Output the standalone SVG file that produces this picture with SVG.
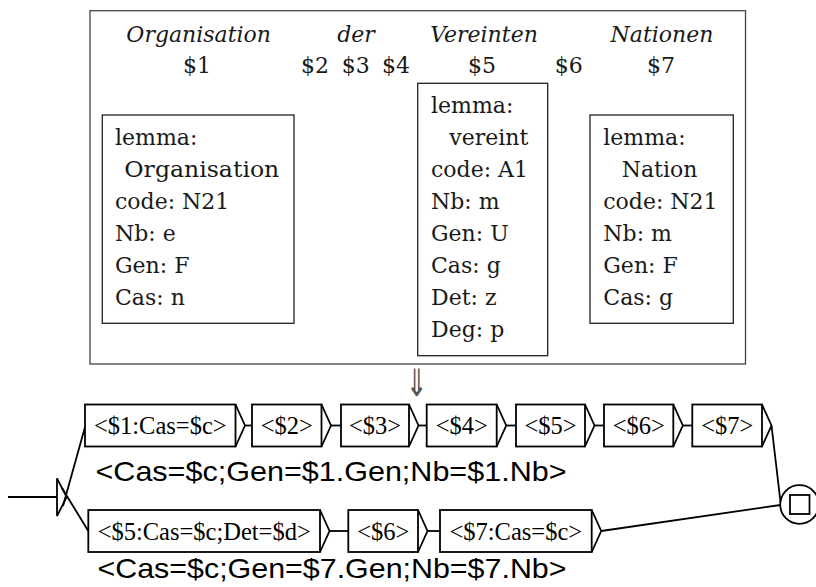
<svg xmlns="http://www.w3.org/2000/svg" width="816" height="587" viewBox="0 0 816 587">
<style>
.cm{font-family:"DejaVu Serif","Liberation Serif",serif;font-size:22px;fill:#1a1a1a}
.it{font-style:italic}
.mid{text-anchor:middle}
.frame{fill:#fff;stroke:#444;stroke-width:1.3}
.ibox{fill:#fff;stroke:#222;stroke-width:1.3}
.gbox{fill:#fff;stroke:#000;stroke-width:1.8}
.glab{font-family:"Liberation Serif","Times New Roman",serif;font-size:24.5px;text-anchor:middle;fill:#000}
.out{font-family:"Liberation Sans",Arial,sans-serif;font-size:28px;fill:#000}
.ln{fill:none;stroke:#000;stroke-width:1.8}
</style>
<rect width="816" height="587" fill="#fff"/>
<g id="frame">
<rect class="frame" x="90" y="10.7" width="655.5" height="353.3"/>
<text class="cm it mid" x="198.7" y="42">Organisation</text>
<text class="cm it mid" x="356" y="42">der</text>
<text class="cm it mid" x="484" y="42">Vereinten</text>
<text class="cm it mid" x="662" y="42">Nationen</text>
<text class="cm mid" x="197" y="72.7">$1</text>
<text class="cm mid" x="315" y="72.7">$2</text>
<text class="cm mid" x="355.8" y="72.7">$3</text>
<text class="cm mid" x="396" y="72.7">$4</text>
<text class="cm mid" x="482" y="72.7">$5</text>
<text class="cm mid" x="568.8" y="72.7">$6</text>
<text class="cm mid" x="661" y="72.7">$7</text>
</g>
<g id="box1">
<rect class="ibox" x="102.3" y="115" width="191.7" height="208.3"/>
<text class="cm" x="115" y="145">lemma:</text>
<text class="cm" x="124.3" y="176.9" textLength="155" lengthAdjust="spacingAndGlyphs">Organisation</text>
<text class="cm" x="115" y="208.8">code: N21</text>
<text class="cm" x="115" y="240.7">Nb: e</text>
<text class="cm" x="115" y="272.6">Gen: F</text>
<text class="cm" x="115" y="304.5">Cas: n</text>
</g>
<g id="box2">
<rect class="ibox" x="417.7" y="83.3" width="130" height="272.4"/>
<text class="cm" x="431" y="113.3">lemma:</text>
<text class="cm" x="449.3" y="145.2">vereint</text>
<text class="cm" x="431" y="177.1">code: A1</text>
<text class="cm" x="431" y="209">Nb: m</text>
<text class="cm" x="431" y="240.9">Gen: U</text>
<text class="cm" x="431" y="272.8">Cas: g</text>
<text class="cm" x="431" y="304.7">Det: z</text>
<text class="cm" x="431" y="336.6">Deg: p</text>
</g>
<g id="box3">
<rect class="ibox" x="590" y="115" width="143.3" height="208.3"/>
<text class="cm" x="603.3" y="145">lemma:</text>
<text class="cm" x="621.7" y="176.9">Nation</text>
<text class="cm" x="603.3" y="208.8">code: N21</text>
<text class="cm" x="603.3" y="240.7">Nb: m</text>
<text class="cm" x="603.3" y="272.6">Gen: F</text>
<text class="cm" x="603.3" y="304.5">Cas: g</text>
</g>
<g id="arrow" transform="translate(416.7,396) scale(1,1.45)">
<text x="0" y="0" font-family="'DejaVu Sans',sans-serif" font-size="26" text-anchor="middle" fill="#555">⇓</text>
</g>
<g id="connectors">
<line class="ln" x1="8" y1="497" x2="57" y2="497"/>
<polygon class="ln" points="57,478.3 57,516 66.7,497"/>
<line class="ln" x1="63" y1="506" x2="85" y2="427"/>
<line class="ln" x1="62" y1="488" x2="88.3" y2="531"/>
<line class="ln" x1="245" y1="425.5" x2="252" y2="425.5"/>
<line class="ln" x1="331" y1="425.5" x2="341" y2="425.5"/>
<line class="ln" x1="418.5" y1="425.5" x2="426.7" y2="425.5"/>
<line class="ln" x1="506.2" y1="425.5" x2="516" y2="425.5"/>
<line class="ln" x1="594.5" y1="425.5" x2="604" y2="425.5"/>
<line class="ln" x1="682.8" y1="425.5" x2="692.3" y2="425.5"/>
<line class="ln" x1="771.5" y1="425.5" x2="780.5" y2="502"/>
<line class="ln" x1="329.5" y1="531" x2="348.3" y2="531"/>
<line class="ln" x1="427.5" y1="531" x2="440" y2="531"/>
<line class="ln" x1="601.2" y1="531" x2="780.5" y2="505"/>
</g>
<g id="n1"><rect class="gbox" x="85" y="404.5" width="150.5" height="42"/><polyline class="ln" points="235.5,404.5 245,425.5 235.5,446.5"/><text class="glab" x="160.3" y="434.3">&lt;$1:Cas=$c&gt;</text></g>
<g id="n2"><rect class="gbox" x="252" y="404.5" width="69.5" height="42"/><polyline class="ln" points="321.5,404.5 331,425.5 321.5,446.5"/><text class="glab" x="286.8" y="434.3">&lt;$2&gt;</text></g>
<g id="n3"><rect class="gbox" x="341" y="404.5" width="68" height="42"/><polyline class="ln" points="409,404.5 418.5,425.5 409,446.5"/><text class="glab" x="375" y="434.3">&lt;$3&gt;</text></g>
<g id="n4"><rect class="gbox" x="426.7" y="404.5" width="70" height="42"/><polyline class="ln" points="496.7,404.5 506.2,425.5 496.7,446.5"/><text class="glab" x="461.7" y="434.3">&lt;$4&gt;</text></g>
<g id="n5"><rect class="gbox" x="516" y="404.5" width="69" height="42"/><polyline class="ln" points="585,404.5 594.5,425.5 585,446.5"/><text class="glab" x="550.5" y="434.3">&lt;$5&gt;</text></g>
<g id="n6"><rect class="gbox" x="604" y="404.5" width="69.3" height="42"/><polyline class="ln" points="673.3,404.5 682.8,425.5 673.3,446.5"/><text class="glab" x="638.7" y="434.3">&lt;$6&gt;</text></g>
<g id="n7"><rect class="gbox" x="692.3" y="404.5" width="69.7" height="42"/><polyline class="ln" points="762,404.5 771.5,425.5 762,446.5"/><text class="glab" x="727.2" y="434.3">&lt;$7&gt;</text></g>
<g id="m1"><rect class="gbox" x="88.3" y="510" width="231.7" height="42"/><polyline class="ln" points="320,510 329.5,531 320,552"/><text class="glab" x="204.2" y="540">&lt;$5:Cas=$c;Det=$d&gt;</text></g>
<g id="m2"><rect class="gbox" x="348.3" y="510" width="69.7" height="42"/><polyline class="ln" points="418,510 427.5,531 418,552"/><text class="glab" x="383.2" y="540">&lt;$6&gt;</text></g>
<g id="m3"><rect class="gbox" x="440" y="510" width="151.7" height="42"/><polyline class="ln" points="591.7,510 601.2,531 591.7,552"/><text class="glab" x="515.8" y="540">&lt;$7:Cas=$c&gt;</text></g>
<g id="final"><circle class="ln" cx="799.5" cy="504.5" r="19.3"/><rect class="ln" x="790" y="495" width="19.5" height="19"/></g>
<g id="labels">
<text class="out" x="95.5" y="481" textLength="471" lengthAdjust="spacingAndGlyphs">&lt;Cas=$c;Gen=$1.Gen;Nb=$1.Nb&gt;</text>
<text class="out" x="97.5" y="578" textLength="469" lengthAdjust="spacingAndGlyphs">&lt;Cas=$c;Gen=$7.Gen;Nb=$7.Nb&gt;</text>
</g>
</svg>
